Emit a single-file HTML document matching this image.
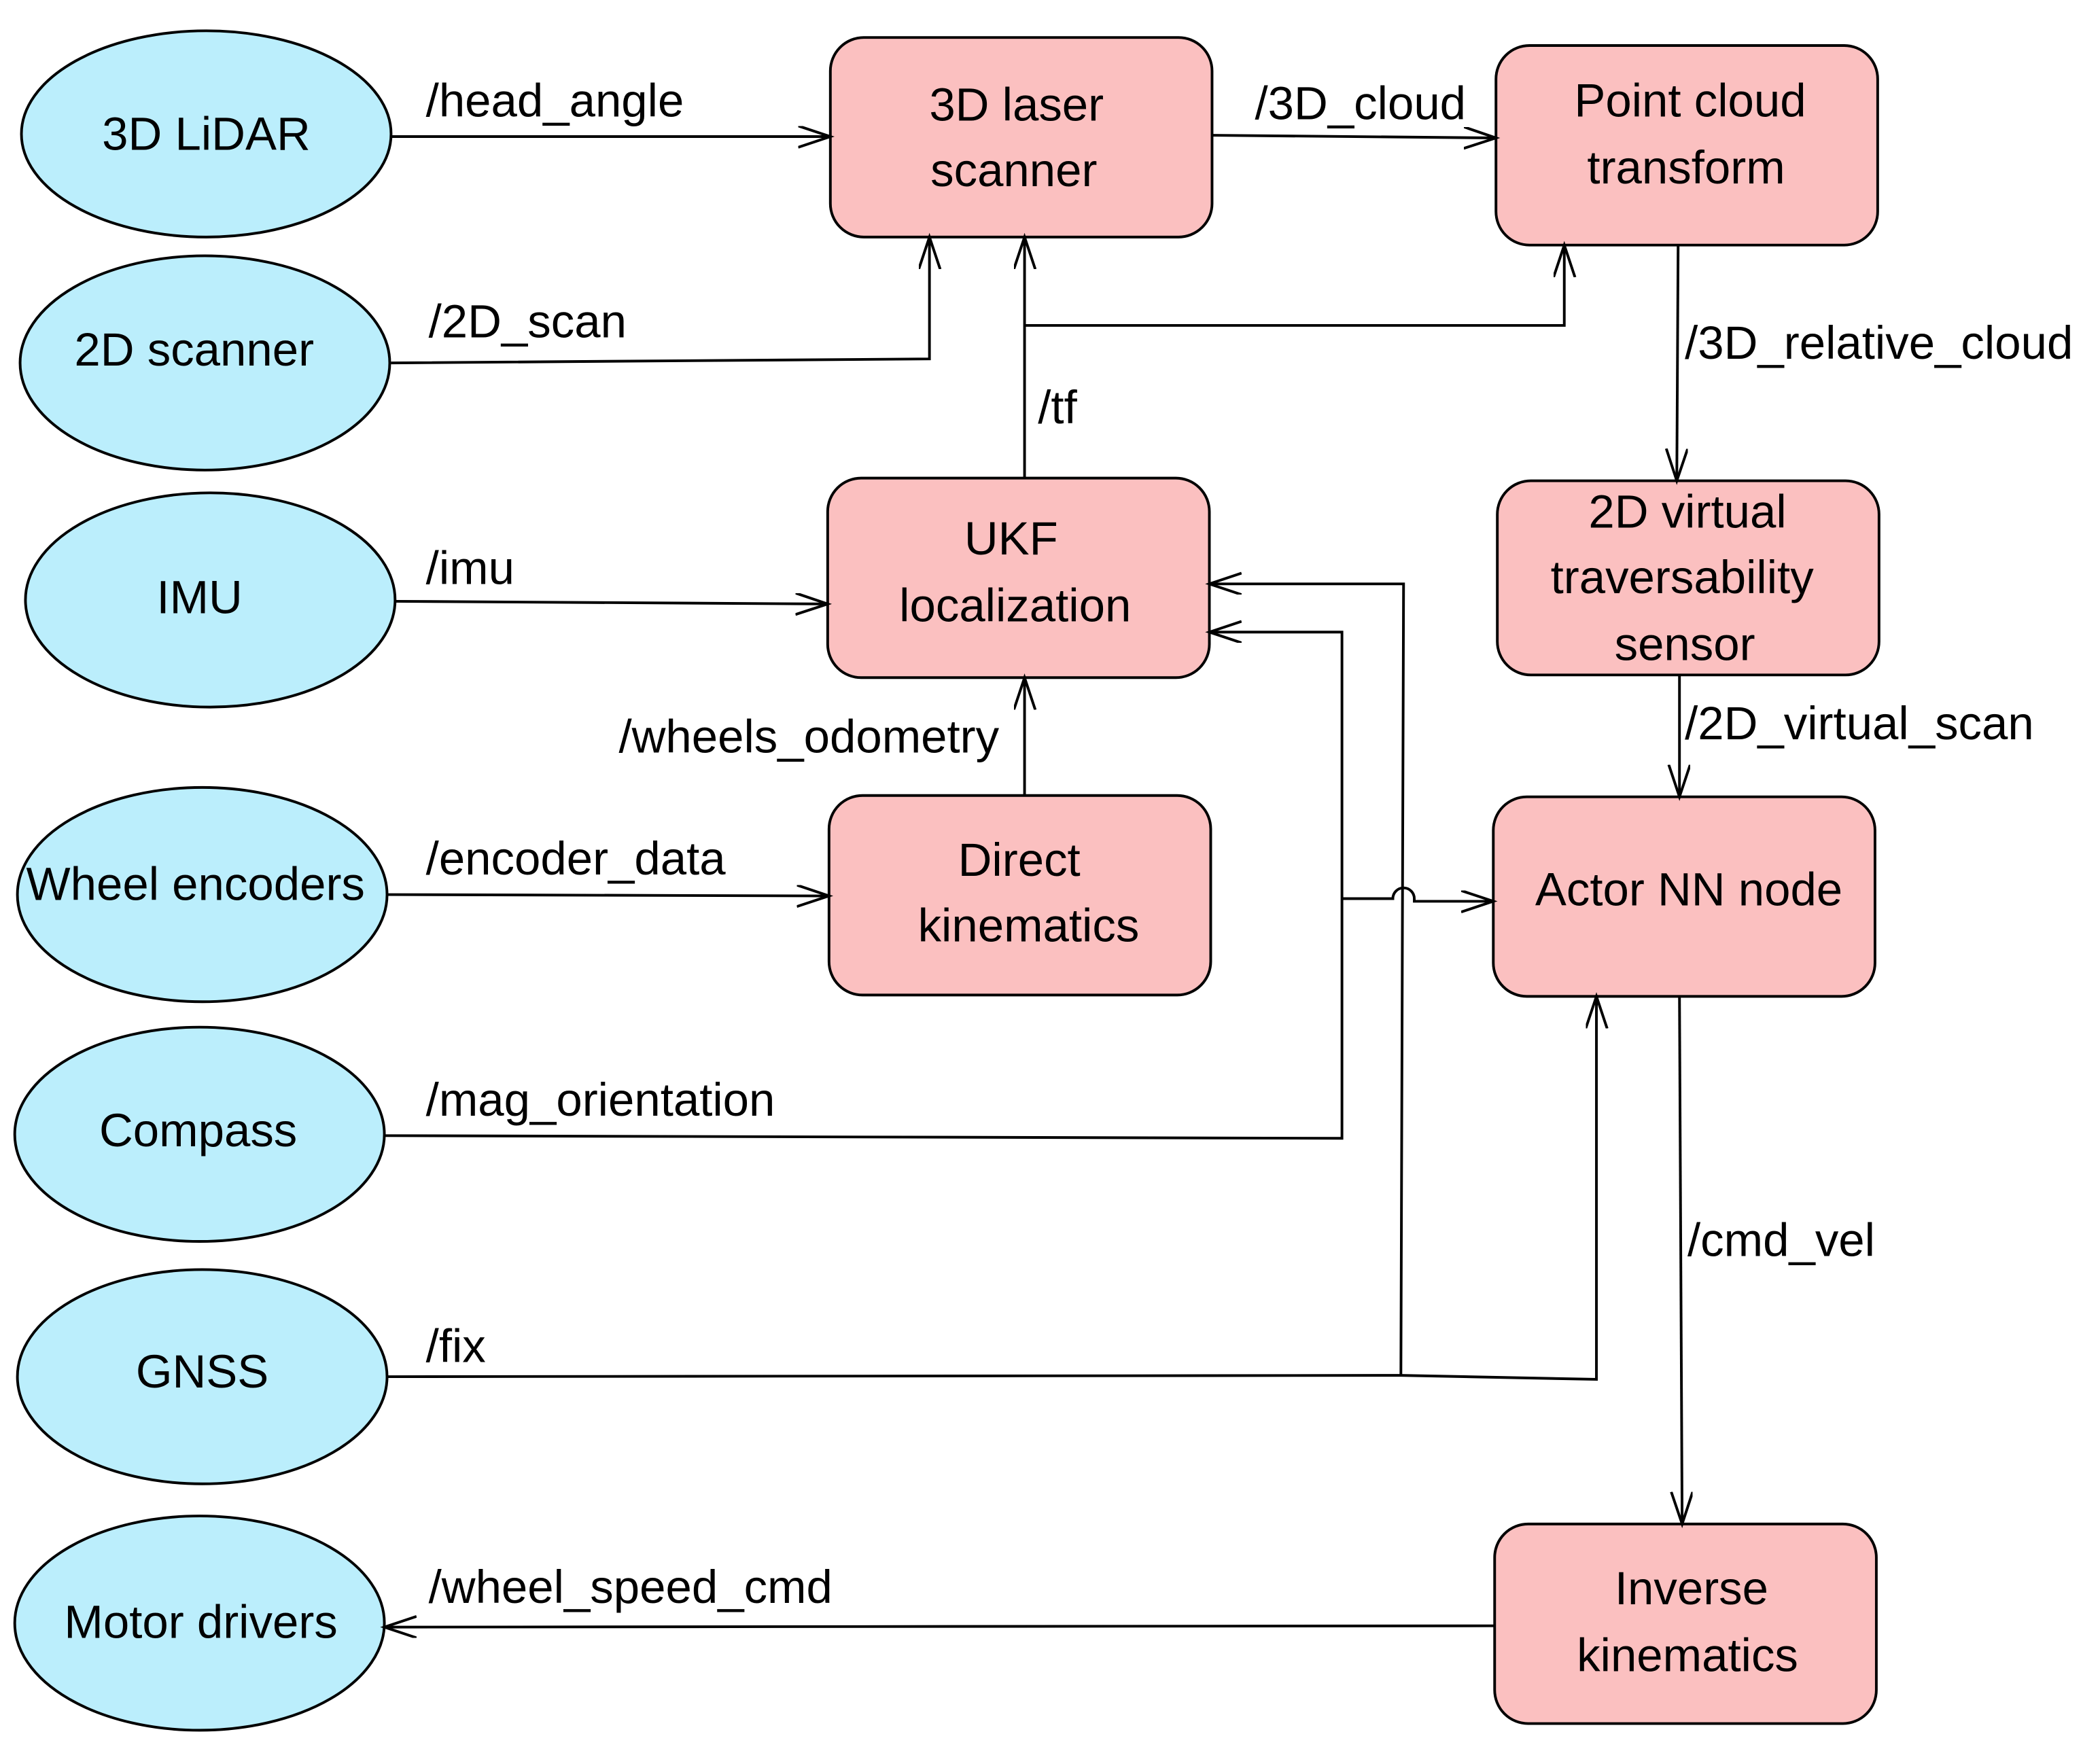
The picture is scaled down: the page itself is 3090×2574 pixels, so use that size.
<!DOCTYPE html>
<html><head><meta charset="utf-8"><style>
html,body{margin:0;padding:0;background:#fff;}
svg{display:block;}
text{font-family:"Liberation Sans",Arial,sans-serif;font-size:35px;fill:#000;}
</style></head><body>
<svg width="3090" height="2574" viewBox="0 0 1568 1306" preserveAspectRatio="none" xmlns="http://www.w3.org/2000/svg">
<defs>
<marker id="a" markerWidth="30" markerHeight="20" refX="24" refY="8" orient="auto" markerUnits="userSpaceOnUse">
<path d="M0,0 L24,8 L0,16" fill="none" stroke="#000" stroke-width="2"/>
</marker>
</defs>
<g fill="#bbeefc" stroke="#000" stroke-width="2">
<ellipse cx="154" cy="100" rx="138" ry="77"/>
<ellipse cx="153" cy="271" rx="138" ry="80"/>
<ellipse cx="157" cy="448" rx="138" ry="80"/>
<ellipse cx="151" cy="668" rx="138" ry="80"/>
<ellipse cx="149" cy="847" rx="138" ry="80"/>
<ellipse cx="151" cy="1028" rx="138" ry="80"/>
<ellipse cx="149" cy="1212" rx="138" ry="80"/>
</g>
<g fill="#fbc0c0" stroke="#000" stroke-width="2">
<rect x="620" y="28" width="285" height="149" rx="25"/>
<rect x="1117" y="34" width="285" height="149" rx="25"/>
<rect x="618" y="357" width="285" height="149" rx="25"/>
<rect x="1118" y="359" width="285" height="145" rx="25"/>
<rect x="619" y="594" width="285" height="149" rx="25"/>
<rect x="1115" y="595" width="285" height="149" rx="25"/>
<rect x="1116" y="1138" width="285" height="149" rx="25"/>
</g>
<g fill="none" stroke="#000" stroke-width="2">
<path d="M292,102 L620,102" marker-end="url(#a)"/>
<path d="M905,101 L1117,103" marker-end="url(#a)"/>
<path d="M292,271 L694,268 L694,177" marker-end="url(#a)"/>
<path d="M765,357 L765,177" marker-end="url(#a)"/>
<path d="M765,243 L1168,243 L1168,183" marker-end="url(#a)"/>
<path d="M1253,183 L1252,359" marker-end="url(#a)"/>
<path d="M295,449 L618,451" marker-end="url(#a)"/>
<path d="M765,594 L765,506" marker-end="url(#a)"/>
<path d="M289,668 L619,669" marker-end="url(#a)"/>
<path d="M1254,504 L1254,595" marker-end="url(#a)"/>
<path d="M287,848 L1002,850 L1002,472 L903,472" marker-end="url(#a)"/>
<path d="M1002,671 L1040,671 A8,8 0 0 1 1056,671 L1056,673 L1115,673" marker-end="url(#a)"/>
<path d="M289,1028 L1046,1027 L1192,1030 L1192,744" marker-end="url(#a)"/>
<path d="M1046,1027 L1048,436 L903,436" marker-end="url(#a)"/>
<path d="M1254,744 L1256,1138" marker-end="url(#a)"/>
<path d="M1116,1214 L287,1215" marker-end="url(#a)"/>
</g>
<g text-anchor="middle">
<text x="154" y="112">3D LiDAR</text>
<text x="145" y="273">2D scanner</text>
<text x="149" y="458">IMU</text>
<text x="146" y="672">Wheel encoders</text>
<text x="148" y="856">Compass</text>
<text x="151" y="1036">GNSS</text>
<text x="150" y="1223">Motor drivers</text>
<text x="759" y="90">3D laser</text>
<text x="757" y="139">scanner</text>
<text x="1262" y="87">Point cloud</text>
<text x="1259" y="137">transform</text>
<text x="755" y="414">UKF</text>
<text x="758" y="464">localization</text>
<text x="1260" y="394">2D virtual</text>
<text x="1256" y="443">traversability</text>
<text x="1258" y="493">sensor</text>
<text x="761" y="654">Direct</text>
<text x="768" y="703">kinematics</text>
<text x="1261" y="676">Actor NN node</text>
<text x="1263" y="1198">Inverse</text>
<text x="1260" y="1248">kinematics</text>
</g>
<g>
<text x="318" y="87">/head_angle</text>
<text x="937" y="89">/3D_cloud</text>
<text x="320" y="252">/2D_scan</text>
<text x="775" y="316">/tf</text>
<text x="1258" y="268">/3D_relative_cloud</text>
<text x="318" y="436">/imu</text>
<text x="462" y="562">/wheels_odometry</text>
<text x="1258" y="552">/2D_virtual_scan</text>
<text x="318" y="653">/encoder_data</text>
<text x="318" y="833">/mag_orientation</text>
<text x="318" y="1017">/fix</text>
<text x="1260" y="938">/cmd_vel</text>
<text x="320" y="1197">/wheel_speed_cmd</text>
</g>
</svg>
</body></html>
